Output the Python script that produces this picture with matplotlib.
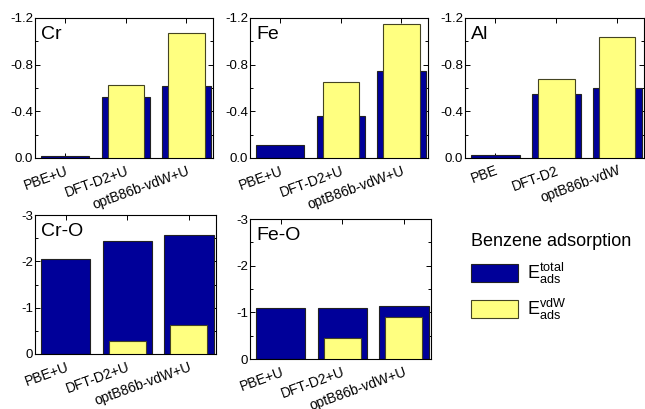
# benzene adsorption energies on metal / oxide surfaces
import matplotlib
matplotlib.use('Agg')
import matplotlib.pyplot as plt
from matplotlib.patches import Patch
from matplotlib.ticker import MultipleLocator, FormatStrFormatter
import numpy as np

plt.rcParams['font.family'] = ['Liberation Sans', 'DejaVu Sans']
plt.rcParams['axes.unicode_minus'] = False
plt.rcParams['mathtext.fontset'] = 'custom'
plt.rcParams['mathtext.rm'] = 'Liberation Sans'
plt.rcParams['mathtext.it'] = 'Liberation Sans:italic'

methods_u = ['PBE+U', 'DFT-D2+U', 'optB86b-vdW+U']
methods_al = ['PBE', 'DFT-D2', 'optB86b-vdW']

# adsorption energies (eV), total and vdW part
cr_total = [-0.02, -0.52, -0.62]
cr_vdw = [0.0, -0.63, -1.07]
fe_total = [-0.11, -0.36, -0.75]
fe_vdw = [0.0, -0.65, -1.15]
al_total = [-0.03, -0.55, -0.60]
al_vdw = [0.0, -0.68, -1.04]
cro_total = [-2.05, -2.43, -2.56]
cro_vdw = [0.0, -0.27, -0.62]
feo_total = [-1.09, -1.10, -1.14]
feo_vdw = [0.0, -0.44, -0.91]

BLUE = '#000099'
YELLOW = '#ffff80'

W, H = 645, 409
fig = plt.figure(figsize=(W / 100, H / 100), dpi=100)


def px_axes(left, top, right, bottom):
    return fig.add_axes([left / W, 1 - bottom / H, (right - left) / W, (bottom - top) / H])


def panel(ax, name, labels, total, vdw, ymin, major, minor, fmt):
    x = np.arange(len(labels))
    ax.bar(x, total, width=0.8, color=BLUE, edgecolor='#222222', lw=0.8, zorder=2)
    vx = [xi for xi, v in zip(x, vdw) if v != 0]
    vv = [v for v in vdw if v != 0]
    ax.bar(vx, vv, width=0.6, color=YELLOW, edgecolor='#444422', lw=0.8, zorder=3)
    ax.set_xlim(-0.5, 2.44)
    ax.set_ylim(0, ymin)
    ax.set_xticks(x)
    ax.set_xticklabels(labels, rotation=20, ha='right', rotation_mode='anchor', fontsize=10)
    ax.yaxis.set_major_locator(MultipleLocator(major))
    ax.yaxis.set_minor_locator(MultipleLocator(minor))
    ax.yaxis.set_major_formatter(FormatStrFormatter(fmt))
    ax.tick_params(axis='both', which='both', direction='in', top=True, right=True)
    ax.tick_params(axis='y', labelsize=9.5, pad=1.5)
    ax.tick_params(axis='x', pad=4)
    ax.tick_params(which='major', length=3.5, width=0.7)
    ax.tick_params(which='minor', length=2, width=0.7)
    ax.tick_params(axis='x', which='minor', top=False, bottom=False)
    for s in ax.spines.values():
        s.set_linewidth(0.8)
    ax.text(0.035, 0.94, name, transform=ax.transAxes, va='top', ha='left', fontsize=14)


ax_cr = px_axes(35, 18, 213, 158)
panel(ax_cr, 'Cr', methods_u, cr_total, cr_vdw, -1.2, 0.4, 0.2, '%.1f')
ax_fe = px_axes(250, 18, 428, 158)
panel(ax_fe, 'Fe', methods_u, fe_total, fe_vdw, -1.2, 0.4, 0.2, '%.1f')
ax_al = px_axes(465, 18, 644, 158)
panel(ax_al, 'Al', methods_al, al_total, al_vdw, -1.2, 0.4, 0.2, '%.1f')
ax_cro = px_axes(35, 215, 216, 354)
panel(ax_cro, 'Cr-O', methods_u, cro_total, cro_vdw, -3, 1, 0.5, '%d')
ax_feo = px_axes(250, 219, 431, 359)
panel(ax_feo, 'Fe-O', methods_u, feo_total, feo_vdw, -3, 1, 0.5, '%d')

handles = [Patch(facecolor=BLUE, edgecolor='#222222', lw=0.8),
           Patch(facecolor=YELLOW, edgecolor='#444422', lw=0.8)]
leg = fig.legend(handles, [r'$\mathrm{E}^{\mathrm{total}}_{\mathrm{ads}}$',
                           r'$\mathrm{E}^{\mathrm{vdW}}_{\mathrm{ads}}$'],
                 title='Benzene adsorption', title_fontsize=13, fontsize=13,
                 frameon=False, loc='upper left',
                 bbox_to_anchor=(464 / W, 1 - 226 / H),
                 handlelength=2.6, handleheight=1.2, labelspacing=0.6,
                 handletextpad=0.5, borderaxespad=0)
leg._legend_box.align = 'left'

fig.savefig('out.png', dpi=100)
